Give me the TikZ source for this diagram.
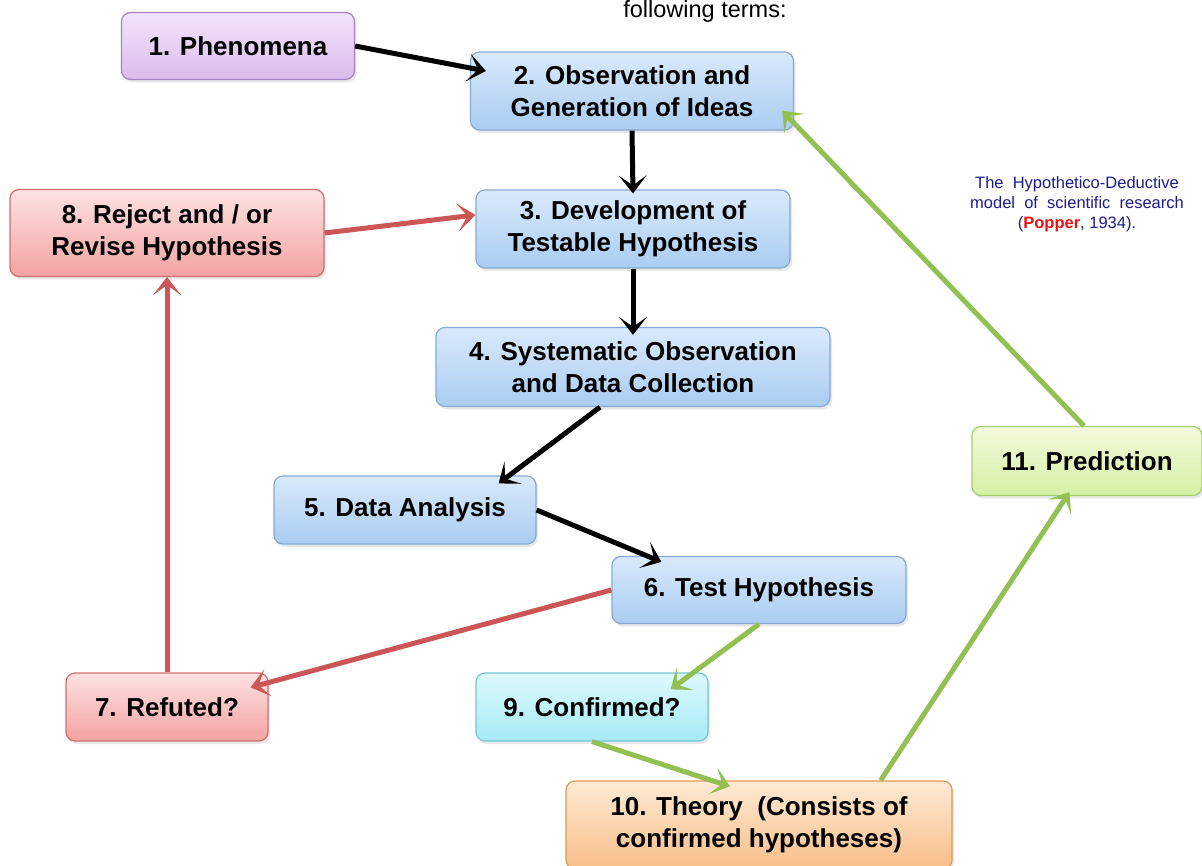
\documentclass[tikz,border=0pt]{standalone}
\usepackage{fontspec}
\setmainfont{Liberation Sans}
\usepackage{xcolor}
\usepackage{tikz}
\usetikzlibrary{arrows.meta, positioning, calc, shadows}
\definecolor{purptop}{HTML}{F2E4FA}
\definecolor{purpbot}{HTML}{DCBCEE}
\definecolor{purpedge}{HTML}{A684C4}
\definecolor{bluetop}{HTML}{DAE9FB}
\definecolor{bluebot}{HTML}{A9CDF2}
\definecolor{blueedge}{HTML}{86AAD4}
\definecolor{redtop}{HTML}{FDE2E2}
\definecolor{redbot}{HTML}{F4A2A2}
\definecolor{rededge}{HTML}{CF7070}
\definecolor{cyantop}{HTML}{DCFAFD}
\definecolor{cyanbot}{HTML}{A6EAF5}
\definecolor{cyanedge}{HTML}{74C6D6}
\definecolor{orantop}{HTML}{FDEAD4}
\definecolor{oranbot}{HTML}{F8BE88}
\definecolor{oranedge}{HTML}{E09A56}
\definecolor{greentop}{HTML}{F2FADC}
\definecolor{greenbot}{HTML}{D6F0A4}
\definecolor{greenedge}{HTML}{A8CC72}
\definecolor{redarrow}{HTML}{CC5555}
\definecolor{greenarrow}{HTML}{92C052}
\definecolor{notenavy}{HTML}{1C1C8E}
\definecolor{popred}{HTML}{F01010}
\tikzset{
  stepbox/.style={rectangle, rounded corners=9pt, line width=1.2pt, align=center, inner sep=0pt,
    font=\fontsize{26}{32}\selectfont\bfseries,
    drop shadow={opacity=0.18, shadow xshift=2pt, shadow yshift=-3pt}},
  purplebox/.style={stepbox, draw=purpedge, top color=purptop, bottom color=purpbot},
  bluebox/.style={stepbox, draw=blueedge, top color=bluetop, bottom color=bluebot},
  redbox/.style={stepbox, draw=rededge, top color=redtop, bottom color=redbot},
  cyanbox/.style={stepbox, draw=cyanedge, top color=cyantop, bottom color=cyanbot},
  orangebox/.style={stepbox, draw=oranedge, top color=orantop, bottom color=oranbot},
  greenbox/.style={stepbox, draw=greenedge, top color=greentop, bottom color=greenbot},
  arrow/.style={line width=5pt, -{Stealth[length=18pt, width=28pt, inset=10pt]}},
  redarrow/.style={arrow, draw=redarrow},
  greenarrow/.style={arrow, draw=greenarrow}
}

\begin{document}
\begin{tikzpicture}[x=1pt, y=-1pt]
\useasboundingbox[fill=white] (0,0) rectangle (1202,866);

% caption text
\node[anchor=base, font=\fontsize{23.5}{26}\selectfont] (terms) at (705,18) {following terms:};
\node[align=center, text=notenavy, font=\fontsize{16.5}{20}\selectfont] (note) at (1077,204)
  {The\ \ Hypothetico-Deductive\\ model\ \ of\ \ scientific\ \ research\\ ({\color{popred}\bfseries Popper}, 1934).};

% boxes
\node[purplebox, minimum width=233pt, minimum height=67pt] (phen) at (238,46) {1. Phenomena};
\node[bluebox, minimum width=323pt, minimum height=78pt] (obs) at (632,91) {2. Observation and\\Generation of Ideas};
\node[bluebox, minimum width=314pt, minimum height=78pt] (dev) at (633,229) {3. Development of\\Testable Hypothesis};
\node[redbox, minimum width=314pt, minimum height=87pt] (rej) at (167,233) {8. Reject and / or\\Revise Hypothesis};
\node[bluebox, minimum width=394pt, minimum height=79pt] (sys) at (633,367) {4. Systematic Observation\\and Data Collection};
\node[bluebox, minimum width=262pt, minimum height=68pt] (ana) at (405,510) {5. Data Analysis};
\node[bluebox, minimum width=294pt, minimum height=67pt] (test) at (759,590) {6. Test Hypothesis};
\node[redbox, minimum width=202pt, minimum height=68pt] (refu) at (167,707) {7. Refuted?};
\node[cyanbox, minimum width=232pt, minimum height=68pt] (conf) at (592,707) {9. Confirmed?};
\node[orangebox, minimum width=386pt, minimum height=88pt] (theo) at (759,825) {10. Theory\ \ (Consists of\\confirmed hypotheses)};
\node[greenbox, minimum width=230pt, minimum height=69pt] (pred) at (1087,461) {11. Prediction};

% main flow
\draw[arrow] (phen.east) -- ($(obs.west)+(16,-20)$);
\draw[arrow] (obs.south) -- ($(dev.north)+(0,4)$);
\draw[arrow] (dev.south) -- ($(sys.north)+(0,8)$);
\draw[arrow] ($(sys.south)+(-33,0)$) -- ($(ana.north east)+(-38,8)$);
\draw[arrow] (ana.east) -- ($(test.north west)+(50,6)$);

% refuted loop
\draw[redarrow] (test.west) -- ($(refu.north east)+(-18,15)$);
\draw[redarrow] (refu.north) -- (rej.south);
\draw[redarrow] (rej.east) -- ($(dev.west)+(0,-14)$);

% confirmed loop
\draw[greenarrow] (test.south) -- ($(conf.north east)+(-38,17)$);
\draw[greenarrow] (conf.south) -- ($(theo.north)+(-29,6)$);
\draw[greenarrow] ($(theo.north east)+(-72,0)$) -- ($(pred.south west)+(98,-4)$);
\draw[greenarrow] ($(pred.north)+(-3,0)$) -- ($(obs.south east)+(-12,-20)$);
\end{tikzpicture}
\end{document}
